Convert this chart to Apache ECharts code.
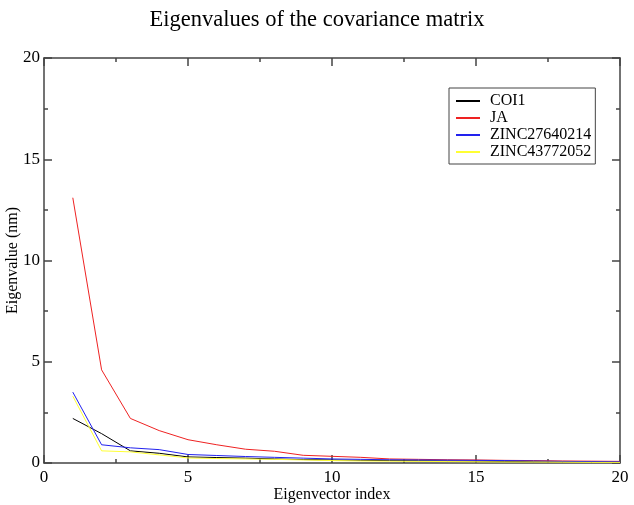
<!DOCTYPE html>
<html><head><meta charset="utf-8">
<script src="https://cdn.jsdelivr.net/npm/echarts@6/dist/echarts.min.js"></script>
<style>html,body{margin:0;padding:0;background:#fff}#c{width:634px;height:505px}</style>
</head><body><div id="c"></div>
<script>
const xIndex = [1,2,3,4,5,6,7,8,9,10,11,12,13,14,15,16,17,18,19,20];
const seriesNames = ['COI1','JA','ZINC27640214','ZINC43772052'];
const coi1 = [2.2,1.45,0.6,0.48,0.3,0.27,0.24,0.2,0.17,0.15,0.13,0.12,0.11,0.1,0.09,0.08,0.07,0.06,0.05,0.05];
const ja = [13.1,4.6,2.2,1.6,1.15,0.9,0.68,0.58,0.38,0.33,0.28,0.2,0.18,0.16,0.15,0.13,0.12,0.1,0.09,0.08];
const zinc276 = [3.5,0.9,0.75,0.66,0.42,0.37,0.32,0.28,0.24,0.2,0.18,0.16,0.15,0.14,0.13,0.12,0.1,0.08,0.07,0.06];
const zinc437 = [3.3,0.6,0.55,0.4,0.25,0.22,0.2,0.18,0.15,0.12,0.1,0.09,0.08,0.07,0.06,0.05,0.05,0.04,0.03,0.03];
const colors = ['#000000','#ee2222','#2222ee','#ffff33'];
const font = 'Liberation Serif';

const chart = echarts.init(document.getElementById('c'));
const axisLine = {show:true, onZero:false, lineStyle:{color:'#444', width:1.5}};
const mk = (vals) => xIndex.map((x,i)=>[x, vals[i]]);
const tick = {inside:true, length:8, lineStyle:{color:'#444', width:1.5}};
const minor = {show:true, splitNumber:2, length:4, lineStyle:{color:'#444', width:1.5}};
const baseX = {type:'value', min:0, max:20, interval:5, splitLine:{show:false},
  axisLine, axisTick:tick, minorTick:minor};
const baseY = {type:'value', min:0, max:20, interval:5, splitLine:{show:false},
  axisLine, axisTick:tick, minorTick:minor};
chart.setOption({
  animation:false,
  title:{text:'Eigenvalues of the covariance matrix', left:'center', top:4,
    textStyle:{fontFamily:font, fontSize:22.5, fontWeight:'normal', color:'#000'}},
  grid:{left:44, right:14, top:58, bottom:42, containLabel:false, outerBoundsMode:'none'},
  legend:{orient:'vertical', left:449, top:88, data:seriesNames,
    icon:'rect', itemWidth:24, itemHeight:2, itemGap:1,
    borderColor:'#444', borderWidth:1, padding:[5,4,4,7],
    textStyle:{fontFamily:font, fontSize:16, color:'#000', padding:[0,0,0,5]}},
  xAxis:[
    Object.assign({}, baseX, {position:'bottom', name:'Eigenvector index', nameLocation:'middle', nameGap:24,
      nameMoveOverlap:false,
      nameTextStyle:{fontFamily:font, fontSize:16, color:'#000'},
      axisLabel:{fontFamily:font, fontSize:17, color:'#000', margin:6}}),
    Object.assign({}, baseX, {position:'top', axisLabel:{show:false}})
  ],
  yAxis:[
    Object.assign({}, baseY, {position:'left', name:'Eigenvalue (nm)', nameLocation:'middle', nameGap:23,
      nameMoveOverlap:false,
      nameTextStyle:{fontFamily:font, fontSize:16, color:'#000'},
      axisLabel:{fontFamily:font, fontSize:17, color:'#000', margin:4}}),
    Object.assign({}, baseY, {position:'right', axisLabel:{show:false}})
  ],
  series:[
    {name:seriesNames[0], type:'line', data:mk(coi1), symbol:'none', lineStyle:{width:1, color:colors[0]}, itemStyle:{color:colors[0]}},
    {name:seriesNames[1], type:'line', data:mk(ja), symbol:'none', lineStyle:{width:1, color:colors[1]}, itemStyle:{color:colors[1]}},
    {name:seriesNames[2], type:'line', data:mk(zinc276), symbol:'none', lineStyle:{width:1, color:colors[2]}, itemStyle:{color:colors[2]}},
    {name:seriesNames[3], type:'line', data:mk(zinc437), symbol:'none', lineStyle:{width:1, color:colors[3]}, itemStyle:{color:colors[3]}}
  ]
});
</script></body></html>
